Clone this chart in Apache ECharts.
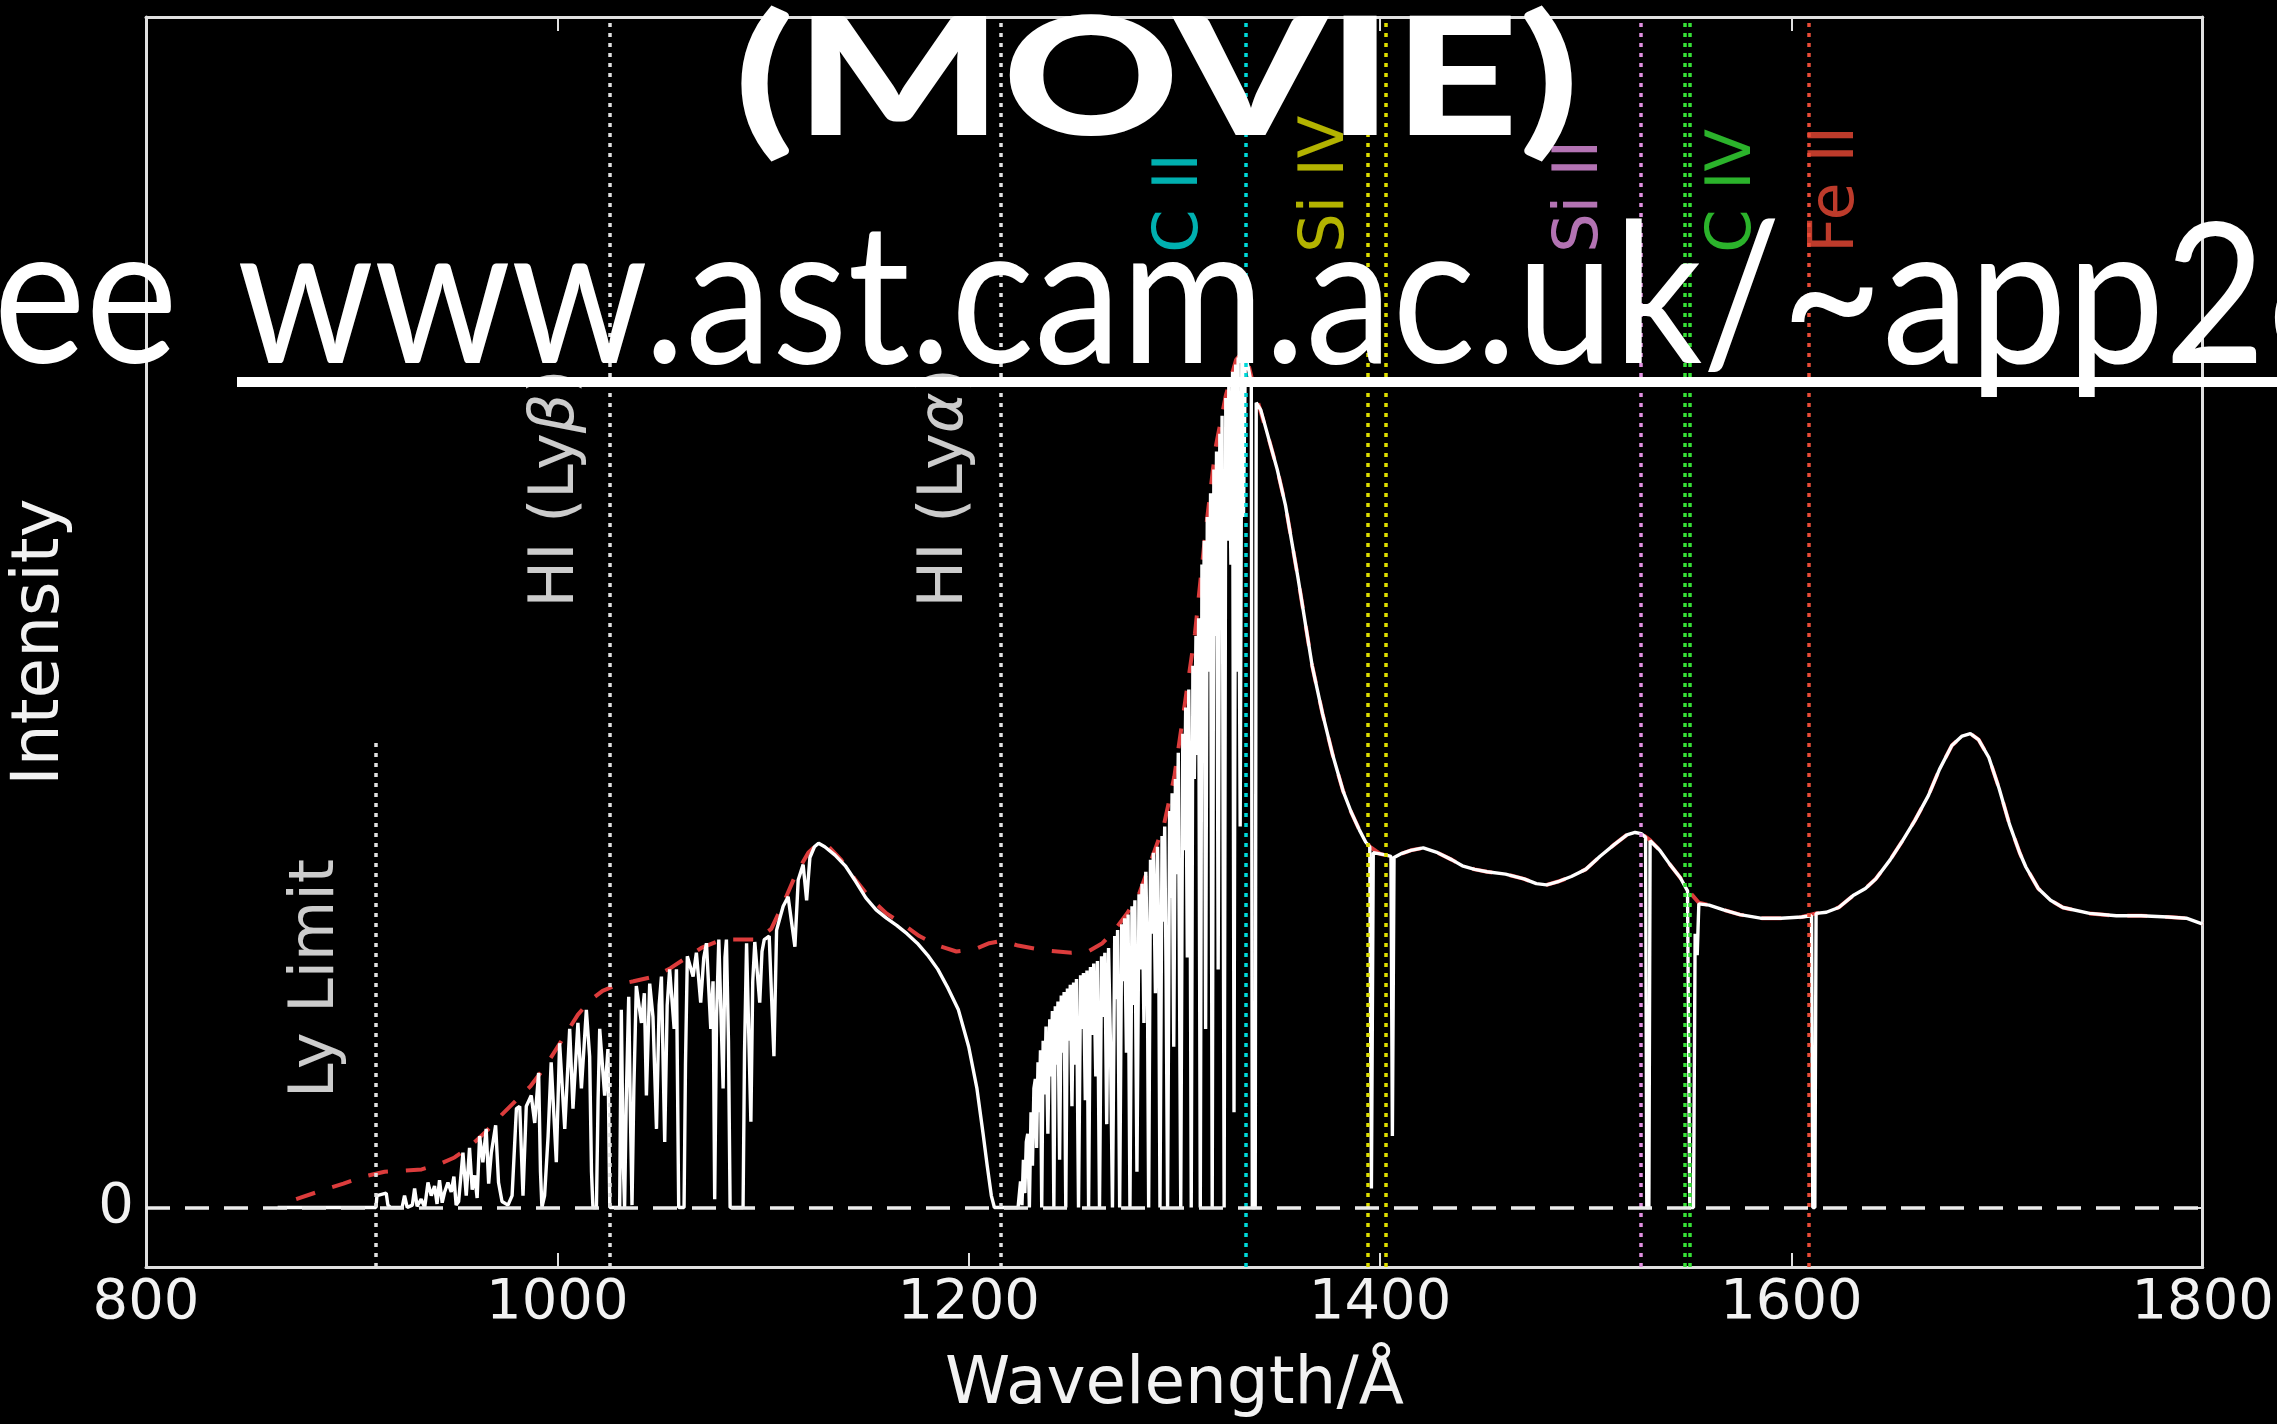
<!DOCTYPE html>
<html>
<head>
<meta charset="utf-8">
<script src="https://cdn.jsdelivr.net/npm/echarts@6/dist/echarts.min.js"></script>
<style>
  html, body { margin: 0; padding: 0; background: #000; }
  #chart { width: 2277px; height: 1424px; }
</style>
</head>
<body>
<div id="chart"></div>
<script>
// Absorbed quasar spectrum: [wavelength (Å), intensity]
const spectrum = [
  [864,0],[911.8,0],[912.3,0.10],[914.5,0.11],[916.8,0.12],[917.6,0.02],[919,0.0],[924.5,0.0],
  [925.7,0.10],[927,0.0],[929.5,0.02],[930.6,0.16],[931.8,0.01],[933.8,0.07],[935.5,0.0],[937.1,0.21],
  [938.7,0.10],[940.3,0.18],[941.5,0.03],[942.7,0.23],[944,0.04],[945.2,0.13],[946.8,0.21],[948.4,0.13],
  [949.7,0.26],[950.8,0.02],[952,0.05],[954.1,0.46],[955.7,0.10],[957.3,0.50],[958.6,0.15],[959.8,0.27],
  [961,0.08],[962.2,0.60],[963.8,0.38],[965.4,0.66],[966.6,0.20],[967.9,0.46],[970,0.69],[971.4,0.21],
  [973.1,0.05],[976,0.02],[978,0.10],[980.1,0.83],[981.7,0.85],[983.3,0.10],[984.9,0.85],[987.3,0.94],
  [989,0.71],[990.9,1.13],[991.8,0.30],[992.5,0.0],
  [993.8,0.10],[995.5,0.6],[997,1.22],[999.5,0.38],[1001.1,1.38],[1003.6,0.66],[1006,1.50],[1007.6,0.83],
  [1010,1.55],[1011.7,1.0],[1014.1,1.66],[1015.7,1.27],[1016.6,0.3],[1017.3,0],[1019,0],[1019.8,0.9],
  [1020.6,1.50],[1023,0.94],[1024.6,1.33],[1025.5,0],[1030.3,0],[1031.1,1.66],[1032,0.4],[1032.7,0],
  [1033.5,0.9],[1034.7,1.77],[1035.5,0.8],[1036.3,0.02],[1037.2,1.0],[1038.4,1.86],[1040.9,1.55],[1042.3,1.8],
  [1043.3,0.94],[1044.9,1.88],[1046.5,1.6],[1048.2,0.66],[1049.5,1.7],[1050.6,1.94],[1052.2,0.55],[1053.4,1.7],
  [1054.6,2.0],[1056.8,1.5],[1057.9,2.0],[1058.5,0.9],[1059,0],[1061.6,0],[1062.3,1.2],[1063.2,2.11],
  [1066,1.94],[1067.6,2.14],[1069.7,1.72],[1071.2,2.1],[1072.5,2.22],[1074.6,1.50],[1075.7,1.9],[1076.5,0.07],
  [1077.4,1.6],[1078.5,2.25],[1080.6,1.0],[1081.5,2.1],[1082.2,2.25],[1083.2,1.4],[1084,0],[1090.3,0],
  [1091,1.3],[1092,2.22],[1094.1,0.72],[1095,1.9],[1096,2.23],[1098.4,1.72],[1099.5,2.15],[1100.6,2.25],
  [1103,2.28],[1105.3,1.27],[1106.6,2.33],[1108.5,2.45],[1109.8,2.53],[1112.2,2.61],[1115.5,2.19],[1117.1,2.75],
  [1119.5,2.88],[1121.2,2.58],[1122.8,2.94],[1125,3.03],[1127,3.06],
  [1130,3.03],[1135,2.96],[1140,2.87],[1145,2.74],[1150,2.60],[1155,2.50],[1160,2.43],[1165,2.37],
  [1170,2.30],[1175,2.22],[1180,2.12],[1185,2.00],[1190,1.84],[1195,1.66],[1200,1.35],[1204,1.00],
  [1207,0.62],[1209,0.35],[1211,0.10],[1212.5,0],[1224,0],
  [1225.2,0.22],[1225.9,0.02],[1226.6,0.40],[1227.3,0.12],[1228.0,0.55],
  [1228.7,0.62],[1229.5,0.0],[1230.3,0.80],[1231.0,0.35],[1231.7,1.0],
  [1232.4,1.08],[1233.0,0.50],[1233.7,1.22],[1234.3,0.80],[1234.9,1.32],
  [1235.5,0.0],[1236.2,1.40],[1236.9,0.95],[1237.6,1.52],
  [1238.5,0.62],[1239.4,1.58],[1240.0,1.10],[1240.7,1.65],
  [1241.4,0.0],[1242.1,1.69],[1242.8,1.20],[1243.4,1.73],
  [1244.2,0.40],[1245.0,1.78],[1245.7,1.30],[1246.4,1.81],
  [1247.2,0.0],[1248.0,1.84],[1248.7,1.40],[1249.4,1.87],
  [1250.2,0.85],[1251.0,1.89],[1251.7,1.20],[1252.4,1.92],
  [1253.4,0.0],[1254.4,1.95],[1255.1,1.50],[1255.8,1.97],
  [1256.7,0.90],[1257.5,1.99],
  [1258.3,0.0],[1259.2,2.02],[1260.0,1.45],[1260.8,2.05],
  [1261.8,1.10],[1262.6,2.07],
  [1263.6,0.0],[1264.6,2.11],[1265.4,1.60],[1266.2,2.14],
  [1267.1,0.70],[1268.0,2.18],[1268.9,1.40],
  [1269.9,0.0],[1271.0,2.28],[1271.7,1.75],[1272.4,2.33],
  [1273.4,0.0],[1274.4,2.38],[1275.1,1.90],[1275.8,2.43],
  [1276.7,1.30],[1277.5,2.46],
  [1278.4,0.0],[1279.4,2.53],[1280.1,1.70],[1280.8,2.58],
  [1281.8,0.30],[1282.8,2.63],[1283.5,2.00],
  [1284.3,2.72],[1285.2,1.55],[1286.1,2.82],[1286.8,2.2],
  [1287.5,0.0],[1288.4,2.92],[1289.1,2.30],
  [1289.8,2.98],[1290.8,1.80],[1291.8,3.03],[1292.4,2.2],
  [1293.0,0.0],[1294.0,3.12],[1294.6,2.40],
  [1295.3,3.20],[1296.0,1.9],[1296.7,0.0],[1297.7,3.33],[1298.3,2.6],
  [1298.9,3.48],[1299.7,1.35],[1300.5,3.60],[1301.2,2.8],
  [1301.9,3.82],[1303.1,0.0],[1304.1,3.98],[1304.8,3.0],
  [1305.5,4.20],[1306.3,2.10],[1307.0,4.35],[1307.6,3.2],
  [1308.2,0.0],[1309.0,4.55],[1309.7,3.6],[1310.5,4.80],[1311.2,3.8],[1311.8,4.95],
  [1312.6,0.0],[1313.4,5.40],[1314.0,4.2],[1314.5,5.60],[1315.2,1.50],[1316.0,5.80],[1316.8,4.5],
  [1317.6,6.00],[1318.4,0.0],[1319.2,6.20],[1319.8,4.8],
  [1320.5,6.35],[1321.3,2.00],[1322.1,6.50],[1322.7,5.0],[1323.2,6.65],[1324.2,0.0],[1325.0,6.80],
  [1325.8,5.6],[1326.5,6.95],[1327.5,5.40],[1328.3,7.02],[1329.0,0.80],[1329.8,7.08],
  [1330.4,4.5],[1331.0,7.14],[1332.0,3.20],[1332.8,7.17],[1333.6,5.8],[1334.5,7.15],[1336.0,7.05],[1337.4,6.92],
  [1337.9,0.0],[1339.3,0.0],[1339.8,6.76],
  [1342,6.70],[1346,6.45],[1350,6.20],[1354,5.90],[1360,5.30],[1367,4.55],[1372,4.15],[1377,3.80],
  [1382,3.50],[1386,3.32],[1390,3.17],[1393,3.07],
  [1395.0,3.03],[1395.8,0.16],[1396.7,2.98],[1400,2.97],[1403,2.96],[1405.3,2.95],[1406.0,0.60],[1406.8,2.94],
  [1410,2.97],[1415,3.00],[1421,3.02],[1428,2.98],[1435,2.92],[1440,2.87],[1446,2.84],[1452,2.82],
  [1461,2.80],[1470,2.76],[1476,2.72],[1481,2.71],[1487,2.74],[1493,2.78],[1500,2.84],[1507,2.95],
  [1514,3.05],[1520,3.13],[1524,3.15],[1527,3.14],
  [1529.1,3.11],[1529.7,0.0],[1530.7,0.0],[1531.3,3.08],
  [1536,3.00],[1541,2.88],[1546,2.77],[1549.5,2.66],[1550.6,0.0],[1552.4,0.0],[1553.2,2.30],[1554.2,2.12],[1555.0,2.55],
  [1560,2.54],[1567,2.50],[1575,2.46],[1585,2.43],[1595,2.43],[1605,2.44],
  [1609.8,2.45],[1610.4,0.0],[1611.4,0.0],[1612.0,2.47],
  [1617,2.48],[1623,2.52],[1630,2.62],[1636,2.68],[1641,2.76],[1648,2.92],[1654,3.08],[1660,3.25],
  [1666.6,3.46],[1672,3.68],[1678,3.88],[1683,3.96],[1687,3.98],[1691,3.93],[1696,3.78],[1701,3.52],
  [1706,3.22],[1711,2.98],[1714,2.86],[1720,2.68],[1726,2.58],[1732,2.52],[1745,2.47],[1758,2.45],
  [1770,2.45],[1783,2.44],[1792,2.43],[1800,2.38]
];

// Unabsorbed continuum: [wavelength (Å), intensity]
const continuum = [
  [873,0.07],[885,0.14],[896,0.20],[906,0.26],[916,0.30],[925,0.31],[934,0.32],[942,0.36],[950,0.42],
  [958,0.52],[966,0.65],[973,0.78],[980,0.90],[987,1.02],[994,1.18],[1002,1.40],[1010,1.62],[1016,1.74],
  [1022,1.82],[1029,1.87],[1037,1.90],[1047,1.94],[1055,2.01],[1062,2.09],[1070,2.18],[1080,2.25],
  [1090,2.25],[1097,2.25],[1104,2.34],[1110,2.56],[1116,2.80],[1122,2.98],[1127,3.06],[1132,3.03],
  [1138,2.92],[1145,2.75],[1152,2.60],[1160,2.47],[1168,2.38],[1176,2.28],[1185,2.20],[1194,2.15],
  [1203,2.17],[1210,2.22],[1216,2.24],[1224,2.20],[1237,2.16],[1250,2.14],[1258,2.15],[1265,2.22],
  [1271,2.33],[1277,2.47],[1283,2.64],[1289,2.93],[1295,3.22],[1300,3.62],[1305,4.22],[1310,4.82],
  [1315,5.65],[1320,6.38],[1325,6.82],[1330,7.12],[1333,7.18],[1336,7.08],[1340,6.80],[1346,6.45],
  [1350,6.20],[1354,5.90],[1360,5.30],[1367,4.55],[1372,4.15],[1377,3.80],[1382,3.50],[1386,3.32],
  [1390,3.17],[1395,3.03],[1400,2.97],[1405,2.95],[1410,2.97],[1415,3.00],[1421,3.02],[1428,2.98],
  [1435,2.92],[1440,2.87],[1446,2.84],[1452,2.82],[1461,2.80],[1470,2.76],[1476,2.72],[1481,2.71],
  [1487,2.74],[1493,2.78],[1500,2.84],[1507,2.95],[1514,3.05],[1520,3.13],[1524,3.15],[1527,3.14],
  [1531,3.09],[1536,3.00],[1541,2.88],[1546,2.77],[1550,2.66],[1555,2.56],[1560,2.54],[1567,2.50],
  [1575,2.46],[1585,2.43],[1595,2.43],[1605,2.44],[1612,2.47],[1617,2.48],[1623,2.52],[1630,2.62],
  [1636,2.68],[1641,2.76],[1648,2.92],[1654,3.08],[1660,3.25],[1666.6,3.46],[1672,3.68],[1678,3.88],
  [1683,3.96],[1687,3.98],[1691,3.93],[1696,3.78],[1701,3.52],[1706,3.22],[1711,2.98],[1714,2.86],
  [1720,2.68],[1726,2.58],[1732,2.52],[1745,2.47],[1758,2.45],[1770,2.45],[1783,2.44],[1792,2.43],[1800,2.38]
];

// Rest-frame line markers
const markerWaves  = [911.8, 1025.7, 1215.7, 1334.5, 1393.8, 1402.8, 1526.7, 1548.2, 1550.8, 1608.5];
const markerTops   = [3.94, 10, 10, 10, 10, 10, 10, 10, 10, 10];
const markerColors = ['#e0e0e0','#e0e0e0','#e0e0e0','#00d8d8','#dede00','#dede00','#e090e0','#36e036','#36e036','#e84c38'];

// Line identifications (text, anchor wavelength, anchor intensity, colour)
const labelTexts  = ['Ly Limit', 'HI (Lyβ)', 'HI (Lyα)', 'C II', 'Si IV', 'Si II', 'C IV', 'Fe II'];
const labelWaves  = [883, 1000, 1189, 1303, 1374, 1497.5, 1572, 1622];
const labelBases  = [0.92, 5.04, 5.04, 8.02, 8.02, 8.02, 8.02, 8.02];
const labelColors = ['#ffffff','#ffffff','#ffffff','#00dcdc','#e0e000','#e090e0','#36e036','#ec4a36'];

// Axis settings
const xMin = 800, xMax = 1800, xStep = 200;
const yMin = -0.5, yMax = 10;
const yTickValues = [0];

// Slide captions
const headline = '(MOVIE)';
const linkPrefix = 'See';
const linkBody = 'www.ast.cam.ac.uk/~app26';

const axisColor = '#e0e0e0';
const textColor = '#f2f2f2';
const font = 'DejaVu Sans';

// caption geometry from glyph metrics
const mctx = document.createElement('canvas').getContext('2d');
function metrics(f, t, base) {
  mctx.font = f;
  mctx.textBaseline = base || 'alphabetic';
  return mctx.measureText(t);
}
// headline
const hFont = '900 164px Lato';
const hm = metrics(hFont, headline);
const hGlyphW = hm.actualBoundingBoxLeft + hm.actualBoundingBoxRight;
const hScale = (1573 - 741) / hGlyphW;
const hX = 741 + hm.actualBoundingBoxLeft * hScale;
const hMid = metrics(hFont, 'M', 'middle').actualBoundingBoxDescent;
const hY = 135 - hMid;
// link line
const lFont = '196px Lato';
const body2 = linkBody.slice(0, linkBody.length - 1);
const bm = metrics(lFont, body2);
const lScale = (2256 - 237) / bm.actualBoundingBoxRight;
const lX = 237;
const pm = metrics(lFont, linkPrefix);
const pX = 171 - pm.actualBoundingBoxRight * lScale;
const lMid = metrics(lFont, 'x', 'middle').actualBoundingBoxDescent;
const lY = 363 - lMid;

const chart = echarts.init(document.getElementById('chart'), null, { renderer: 'canvas' });

const plainNumber = v => String(v);

const option = {
  backgroundColor: '#000000',
  animation: false,
  grid: { left: 145, right: 74, top: 17, bottom: 145, containLabel: false },
  xAxis: [
    {
      type: 'value', min: xMin, max: xMax, interval: xStep, position: 'bottom',
      axisLine: { show: true, onZero: false, lineStyle: { color: axisColor, width: 3 } },
      axisTick: { show: true, inside: true, length: 14, lineStyle: { color: axisColor, width: 2 } },
      axisLabel: { color: textColor, fontFamily: font, fontSize: 56, margin: 8, formatter: plainNumber },
      splitLine: { show: false },
      name: 'Wavelength/Å', nameLocation: 'middle', nameGap: 86,
      nameTextStyle: { color: textColor, fontFamily: font, fontSize: 66 }
    },
    {
      type: 'value', min: xMin, max: xMax, interval: xStep, position: 'top',
      axisLine: { show: true, onZero: false, lineStyle: { color: axisColor, width: 3 } },
      axisTick: { show: true, inside: true, length: 14, lineStyle: { color: axisColor, width: 2 } },
      axisLabel: { show: false }, splitLine: { show: false }
    }
  ],
  yAxis: [
    {
      type: 'value', min: yMin, max: yMax, position: 'left',
      axisLine: { show: true, onZero: false, lineStyle: { color: axisColor, width: 3 } },
      axisTick: { show: true, inside: true, length: 14, customValues: yTickValues, lineStyle: { color: axisColor, width: 2 } },
      axisLabel: { color: textColor, fontFamily: font, fontSize: 56, margin: 12, customValues: yTickValues, formatter: plainNumber },
      splitLine: { show: false },
      name: 'Intensity', nameLocation: 'middle', nameGap: 72, nameRotate: 90,
      nameTextStyle: { color: textColor, fontFamily: font, fontSize: 66 }
    },
    {
      type: 'value', min: yMin, max: yMax, position: 'right',
      axisLine: { show: true, onZero: false, lineStyle: { color: axisColor, width: 3 } },
      axisTick: { show: true, inside: true, length: 14, customValues: yTickValues, lineStyle: { color: axisColor, width: 2 } },
      axisLabel: { show: false }, splitLine: { show: false }
    }
  ],
  series: [
    {
      name: 'markers', type: 'line', data: [], z: 1,
      markLine: {
        silent: true, symbol: ['none', 'none'], animation: false,
        label: { show: false },
        data: markerWaves.map((w, i) => [
          { coord: [w, yMin], lineStyle: { color: markerColors[i], type: [4, 6], width: 3.5 } },
          { coord: [w, markerTops[i]] }
        ])
      }
    },
    {
      name: 'zero', type: 'line', data: [], z: 2,
      markLine: {
        silent: true, symbol: ['none', 'none'], animation: false,
        label: { show: false },
        lineStyle: { color: '#ececec', type: [24, 15], width: 3.5 },
        data: [{ yAxis: 0 }]
      }
    },
    {
      name: 'continuum', type: 'line', data: continuum, z: 3,
      showSymbol: false, symbol: 'none',
      lineStyle: { color: '#dc3c3c', width: 4, type: [20, 18] }
    },
    {
      name: 'spectrum', type: 'line', data: spectrum, z: 4,
      showSymbol: false, symbol: 'none',
      lineStyle: { color: '#ffffff', width: 3.4 }
    },
    {
      name: 'identifications', type: 'scatter', z: 5, symbolSize: 0, silent: true,
      data: labelTexts.map((t, i) => ({
        name: t, value: [labelWaves[i], labelBases[i]],
        label: { color: labelColors[i] }
      })),
      label: {
        show: true, position: [0, 0], rotate: 90, align: 'left', verticalAlign: 'middle',
        fontFamily: font, fontSize: 62,
        formatter: p => p.name.replace(/([αβ])/, '{g|$1}'),
        rich: { g: { fontStyle: 'italic', fontFamily: font, fontSize: 62 } }
      }
    }
  ],
  graphic: [
    {
      type: 'text', z: 100, x: hX, y: hY, scaleX: hScale, scaleY: 1, originX: 0, originY: 0,
      style: { text: headline, font: hFont, fill: '#ffffff', align: 'left', verticalAlign: 'middle' }
    },
    {
      type: 'text', z: 100, x: pX, y: lY, scaleX: lScale, scaleY: 1, originX: 0, originY: 0,
      style: { text: linkPrefix, font: lFont, fill: '#ffffff', align: 'left', verticalAlign: 'middle' }
    },
    {
      type: 'text', z: 100, x: lX, y: lY, scaleX: lScale, scaleY: 1, originX: 0, originY: 0,
      style: { text: linkBody, font: lFont, fill: '#ffffff', align: 'left', verticalAlign: 'middle' }
    },
    {
      type: 'rect', z: 100, shape: { x: 237, y: 377, width: 2040, height: 10 },
      style: { fill: '#ffffff' }
    }
  ]
};

chart.setOption(option);
</script>
</body>
</html>
